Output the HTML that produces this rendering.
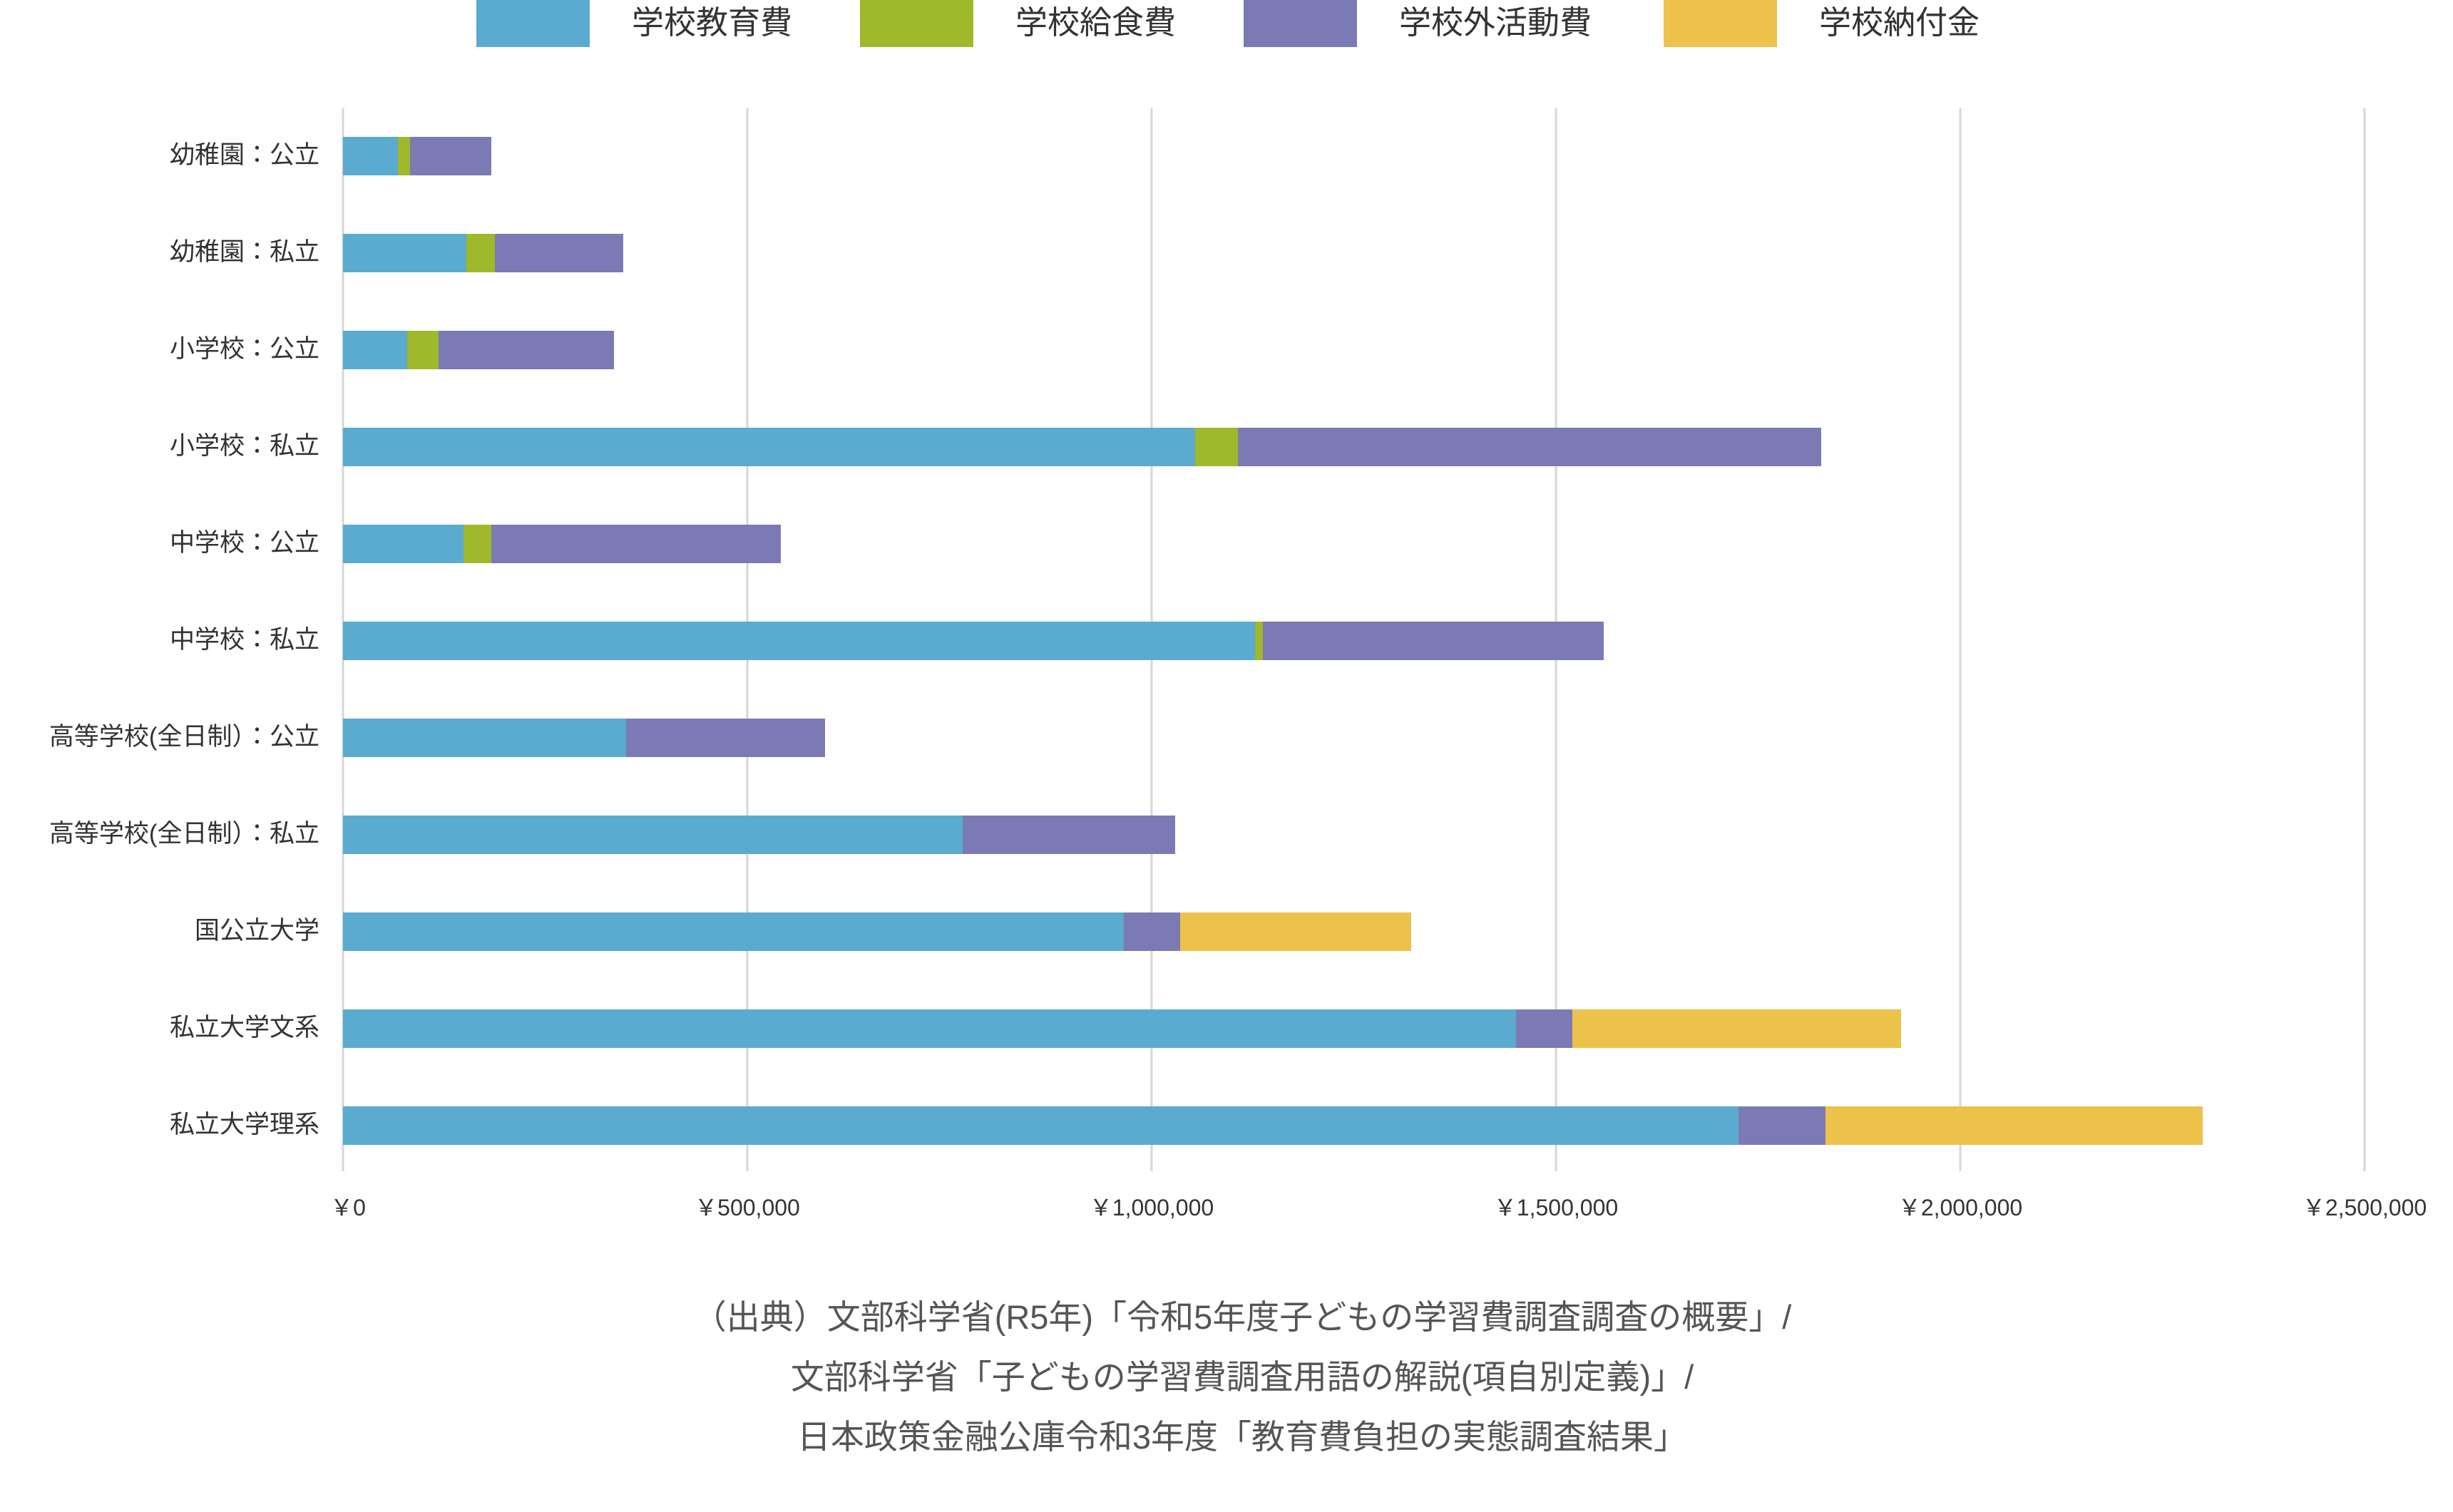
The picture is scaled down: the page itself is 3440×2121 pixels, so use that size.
<!DOCTYPE html>
<html><head><meta charset="utf-8"><style>
html,body{margin:0;padding:0;background:#fff;}
svg{display:block;font-family:"Liberation Sans","Noto Sans CJK JP",sans-serif;}
</style></head><body>
<svg width="3440" height="2121" viewBox="0 0 3440 2121" xmlns="http://www.w3.org/2000/svg">
<rect width="3440" height="2121" fill="#fff"/>
<!-- legend -->
<rect x="668" y="0" width="159" height="66" fill="#5aabcf"/>
<text x="886" y="47" font-size="45" fill="#333">学校教育費</text>
<rect x="1206" y="0" width="159" height="66" fill="#a0b82b"/>
<text x="1424" y="47" font-size="45" fill="#333">学校給食費</text>
<rect x="1744" y="0" width="159" height="66" fill="#7b7ab4"/>
<text x="1962" y="47" font-size="45" fill="#333">学校外活動費</text>
<rect x="2333" y="0" width="159" height="66" fill="#ecc24a"/>
<text x="2551" y="47" font-size="45" fill="#333">学校納付金</text>
<!-- gridlines -->
<g stroke="#d6d6d6" stroke-width="3">
<line x1="481" y1="152" x2="481" y2="1643"/>
<line x1="1048" y1="152" x2="1048" y2="1643"/>
<line x1="1615" y1="152" x2="1615" y2="1643"/>
<line x1="2182" y1="152" x2="2182" y2="1643"/>
<line x1="2749" y1="152" x2="2749" y2="1643"/>
<line x1="3316" y1="152" x2="3316" y2="1643"/>
</g>
<!-- ticks -->
<g font-size="32" fill="#333" text-anchor="middle">
<text x="488" y="1705">￥0</text>
<text x="1048" y="1705">￥500,000</text>
<text x="1615" y="1705">￥1,000,000</text>
<text x="2182" y="1705">￥1,500,000</text>
<text x="2749" y="1705">￥2,000,000</text>
<text x="3316" y="1705">￥2,500,000</text>
</g>
<!-- category labels -->
<g font-size="35" fill="#333" text-anchor="end">
<text x="448" y="229">幼稚園：公立</text>
<text x="448" y="365">幼稚園：私立</text>
<text x="448" y="501">小学校：公立</text>
<text x="448" y="637">小学校：私立</text>
<text x="448" y="773">中学校：公立</text>
<text x="448" y="909">中学校：私立</text>
<text x="448" y="1045">高等学校(全日制）：公立</text>
<text x="448" y="1181">高等学校(全日制）：私立</text>
<text x="448" y="1317">国公立大学</text>
<text x="448" y="1453">私立大学文系</text>
<text x="448" y="1589">私立大学理系</text>
</g>
<!-- bars -->
<g>
<rect x="481" y="192" width="77" height="54" fill="#5aabcf"/><rect x="558" y="192" width="17" height="54" fill="#a0b82b"/><rect x="575" y="192" width="114" height="54" fill="#7b7ab4"/>
<rect x="481" y="328" width="173" height="54" fill="#5aabcf"/><rect x="654" y="328" width="40" height="54" fill="#a0b82b"/><rect x="694" y="328" width="180" height="54" fill="#7b7ab4"/>
<rect x="481" y="464" width="90" height="54" fill="#5aabcf"/><rect x="571" y="464" width="44" height="54" fill="#a0b82b"/><rect x="615" y="464" width="246" height="54" fill="#7b7ab4"/>
<rect x="481" y="600" width="1195" height="54" fill="#5aabcf"/><rect x="1676" y="600" width="60" height="54" fill="#a0b82b"/><rect x="1736" y="600" width="818" height="54" fill="#7b7ab4"/>
<rect x="481" y="736" width="169" height="54" fill="#5aabcf"/><rect x="650" y="736" width="39" height="54" fill="#a0b82b"/><rect x="689" y="736" width="406" height="54" fill="#7b7ab4"/>
<rect x="481" y="872" width="1279" height="54" fill="#5aabcf"/><rect x="1760" y="872" width="11" height="54" fill="#a0b82b"/><rect x="1771" y="872" width="478" height="54" fill="#7b7ab4"/>
<rect x="481" y="1008" width="397" height="54" fill="#5aabcf"/><rect x="878" y="1008" width="279" height="54" fill="#7b7ab4"/>
<rect x="481" y="1144" width="869" height="54" fill="#5aabcf"/><rect x="1350" y="1144" width="298" height="54" fill="#7b7ab4"/>
<rect x="481" y="1280" width="1095" height="54" fill="#5aabcf"/><rect x="1576" y="1280" width="79" height="54" fill="#7b7ab4"/><rect x="1655" y="1280" width="324" height="54" fill="#ecc24a"/>
<rect x="481" y="1416" width="1645" height="54" fill="#5aabcf"/><rect x="2126" y="1416" width="79" height="54" fill="#7b7ab4"/><rect x="2205" y="1416" width="461" height="54" fill="#ecc24a"/>
<rect x="481" y="1552" width="1957" height="54" fill="#5aabcf"/><rect x="2438" y="1552" width="122" height="54" fill="#7b7ab4"/><rect x="2560" y="1552" width="529" height="54" fill="#ecc24a"/>
</g>
<!-- source -->
<g font-size="47" fill="#555" text-anchor="middle">
<text x="1742" y="1864">（出典）文部科学省(R5年)「令和5年度子どもの学習費調査調査の概要」/</text>
<text x="1742" y="1948">文部科学省「子どもの学習費調査用語の解説(項自別定義)」/</text>
<text x="1742" y="2032">日本政策金融公庫令和3年度「教育費負担の実態調査結果」</text>
</g>
</svg>
</body></html>
